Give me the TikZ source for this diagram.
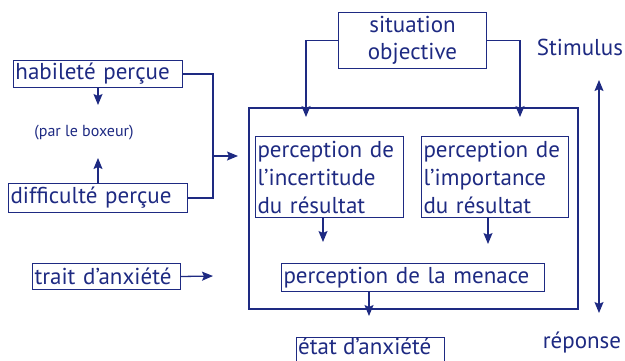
\documentclass[tikz,border=0pt]{standalone}
\usepackage{fontspec}
\setmainfont{PT Sans}
\usetikzlibrary{arrows.meta,calc}
\definecolor{navy}{RGB}{30,42,130}
\tikzset{
  box/.style={draw=navy, line width=1pt, text=navy, anchor=north west, inner xsep=2pt, inner ysep=0pt, align=left, font=\fontsize{23}{28}\selectfont},
  arr/.style={draw=navy, line width=1.3pt, -{Stealth[length=11pt,width=9pt,inset=2pt]}},
  ln/.style={draw=navy, line width=1.3pt},
  lbl/.style={text=navy, font=\fontsize{23}{27}\selectfont}
}
\begin{document}
\begin{tikzpicture}[x=1pt,y=-1pt]
\useasboundingbox (0,0) rectangle (625,360);
% boxes
\node[box, minimum width=169pt, minimum height=27pt, text width=165pt] (hab) at (13,60) {habileté perçue};
\node[box, minimum width=179pt, minimum height=29pt, text width=175pt] (diff) at (8,183) {difficulté perçue};
\node[text=navy, font=\fontsize{16}{18}\selectfont] (par) at (84,133) {(par le boxeur)};
\node[box, minimum width=148pt, minimum height=56pt, text width=144pt, align=center] (sit) at (338,12) {situation\\[-1pt]objective};
\node[draw=navy, line width=2pt, minimum width=329pt, minimum height=201pt, anchor=north west, inner sep=0pt] (big) at (248,107) {};
\node[box, minimum width=148pt, minimum height=81pt, text width=144pt] (p1) at (255,136) {perception de\\l’incertitude\\du résultat};
\node[box, minimum width=147pt, minimum height=81pt, text width=143pt] (p2) at (421,136) {perception de\\l’importance\\du résultat};
\node[box, minimum width=263pt, minimum height=28pt, text width=259pt] (men) at (281,263) {perception de la menace};
\node[text=navy, anchor=west, inner xsep=2pt, inner ysep=0pt, font=\fontsize{23}{28}\selectfont] (etat) at (296,346.5) {état d’anxiété};
\draw[navy, line width=1pt] (296,337) rectangle (444,362);
\node[box, minimum width=148pt, minimum height=26pt, text width=144pt] (trait) at (32,263) {trait d’anxiété};
\node[lbl] (stim) at (580,47) {Stimulus};
\node[lbl] (rep) at (582,343) {réponse};
% coordinates
\coordinate (j1) at (213,156);
\coordinate (j1e) at (238,156);
\coordinate (habe) at (98,105);
\coordinate (diffe) at (98,158);
\coordinate (sl) at (306,117);
\coordinate (sr) at (520,117);
\coordinate (a1) at (323,242);
\coordinate (a2) at (488,244);
\coordinate (a3) at (369,316);
\coordinate (te) at (213,276);
\coordinate (dt) at (599,80);
\coordinate (db) at (599,313);
% connectors
\draw[ln] (hab.east) -| (j1) |- (diff.east);
\draw[arr] (j1) -- (j1e);
\draw[arr] (hab.south -| habe) -- (habe);
\draw[arr] (diff.north -| diffe) -- (diffe);
\draw[arr] (sit.west) -| (sl);
\draw[arr] (sit.east) -| (sr);
\draw[arr] (p1.south -| a1) -- (a1);
\draw[arr] (p2.south -| a2) -- (a2);
\draw[arr] (men.south -| a3) -- (a3);
\draw[arr] (trait.east) -- (te);
\draw[arr, {Stealth[length=11pt,width=9pt,inset=2pt]}-{Stealth[length=11pt,width=9pt,inset=2pt]}] (dt) -- (db);
\end{tikzpicture}
\end{document}
